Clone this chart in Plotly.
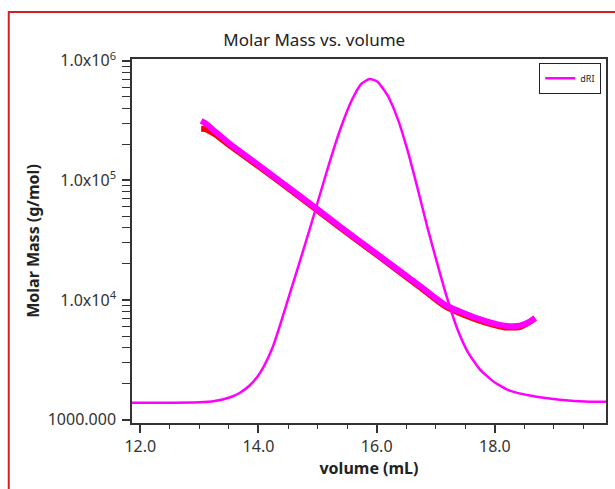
import plotly.graph_objects as go

# dRI chromatogram (relative signal, normalized to peak)
dri_volume = [11.86, 12.5, 13.00, 13.26, 13.51, 13.68, 13.85, 13.99, 14.10, 14.24, 14.39, 14.56,
              14.73, 14.90, 15.07, 15.24, 15.41, 15.58, 15.74, 15.88, 16.01, 16.18, 16.35,
              16.52, 16.69, 16.86, 17.03, 17.20, 17.37, 17.54, 17.75, 18.00, 18.25, 18.59,
              19.10, 19.61, 19.88]
dri_signal = [0.001, 0.001, 0.002, 0.006, 0.017, 0.031, 0.054, 0.083, 0.116, 0.172, 0.255, 0.355,
              0.455, 0.557, 0.662, 0.765, 0.858, 0.935, 0.985, 1.000, 0.992, 0.951, 0.880,
              0.781, 0.664, 0.541, 0.427, 0.319, 0.226, 0.158, 0.103, 0.063, 0.038, 0.023,
              0.010, 0.004, 0.004]

# Molar mass across the peak (g/mol)
mm_volume = [13.03, 13.1, 13.25, 13.51, 14.02, 14.70, 15.37, 16.05, 16.73, 17.15,
             17.49, 17.83, 18.17, 18.42, 18.59, 18.68]
mm_magenta = [3.14e5, 3.0e5, 2.6e5, 2.03e5, 1.32e5, 7.4e4, 4.15e4, 2.33e4, 1.31e4, 9.14e3,
              7.7e3, 6.7e3, 6.1e3, 6.1e3, 6.6e3, 7.1e3]
mm_red = [2.7e5, 2.68e5, 2.45e5, 1.96e5, 1.29e5, 7.25e4, 4.07e4, 2.29e4, 1.28e4, 8.9e3,
          7.45e3, 6.5e3, 5.9e3, 5.95e3, 6.55e3, 7.05e3]

y_tickvals = [1000, 1e4, 1e5, 1e6]
y_ticktext = ["1000.000", "1.0x10<sup>4</sup>", "1.0x10<sup>5</sup>", "1.0x10<sup>6</sup>"]
y_minor = [m * d for d in (1000, 1e4, 1e5) for m in range(2, 10)]

fig = go.Figure()
fig.add_trace(go.Scatter(x=mm_volume, y=mm_red, mode="lines",
                         line=dict(color="#ff0000", width=6, shape="spline", smoothing=0.6),
                         showlegend=False, hoverinfo="skip"))
fig.add_trace(go.Scatter(x=mm_volume, y=mm_magenta, mode="lines",
                         line=dict(color="#ff00ff", width=6, shape="spline", smoothing=0.6),
                         showlegend=False))
fig.add_trace(go.Scatter(x=dri_volume, y=dri_signal, mode="lines", name="dRI", yaxis="y2",
                         line=dict(color="#ff00ff", width=2.5, shape="spline", smoothing=0.5)))

font_family = "Noto Sans"
fig.update_layout(
    width=615, height=489,
    margin=dict(l=132, r=9, t=59, b=66, autoexpand=False),
    paper_bgcolor="white", plot_bgcolor="white",
    font=dict(family=font_family, color="#222222", size=15),
    title=dict(text="Molar Mass vs. volume", x=0.511, xref="container", xanchor="center",
               y=0.918, yref="container", yanchor="middle",
               font=dict(size=17, color="#222222")),
    xaxis=dict(range=[11.86, 19.88], tick0=12, dtick=2, tickformat=".1f", ticks="outside", ticklen=8,
               tickcolor="#333333", tickwidth=1.5, showline=True, linecolor="#333333", linewidth=1.5,
               mirror=True, showgrid=False, zeroline=False, automargin=False,
               minor=dict(dtick=0.5, tick0=12, ticks="outside", ticklen=4, tickcolor="#333333", tickwidth=1.2),
               title=dict(text="<b>volume (mL)</b>", font=dict(size=16), standoff=7),
               tickfont=dict(size=16, color="#333333")),
    yaxis=dict(type="log", range=[2.972, 6.014], tickmode="array", tickvals=y_tickvals, ticktext=y_ticktext,
               ticks="outside", ticklen=8, tickcolor="#333333", tickwidth=1.5, showline=True,
               linecolor="#333333", linewidth=1.5, mirror=True, showgrid=False, zeroline=False,
               automargin=False, ticklabelstandoff=3,
               minor=dict(tickmode="array", tickvals=y_minor, ticks="outside", ticklen=8,
                          tickcolor="#333333", tickwidth=1.2),
               title=dict(text="<b>Molar Mass (g/mol)</b>", font=dict(size=16), standoff=4),
               tickfont=dict(size=16, color="#333333")),
    yaxis2=dict(overlaying="y", range=[-0.0617, 1.0617], visible=False),
    legend=dict(x=0.99, xanchor="right", y=0.99, yanchor="top", bordercolor="#222222", borderwidth=1,
                bgcolor="white", font=dict(size=9), itemwidth=30, tracegroupgap=0),
    shapes=[dict(type="rect", xref="paper", yref="paper", x0=-0.260, x1=1.2, y0=-0.5, y1=1.129,
                 line=dict(color="#d42020", width=2), layer="below")],
)
fig.write_html("out.html", config={"displayModeBar": False},
               post_script="document.body.style.margin='0px';")
